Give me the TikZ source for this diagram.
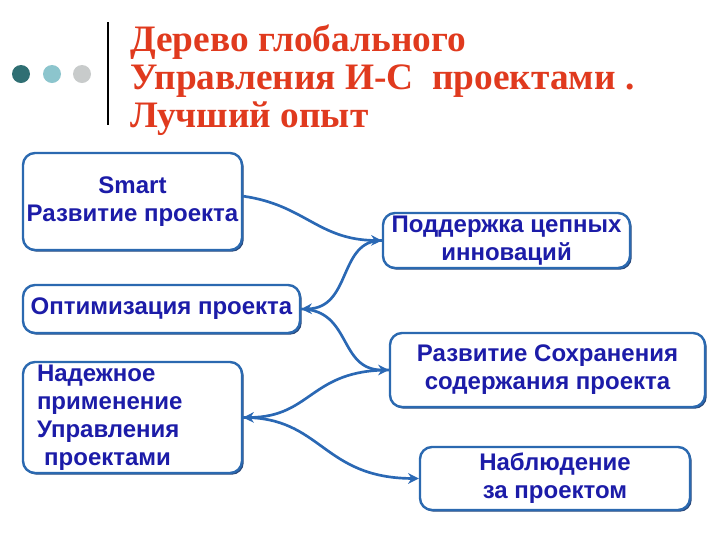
\documentclass[tikz,border=0pt]{standalone}
\usepackage{fontspec}
\setmainfont{Liberation Serif}
\newfontfamily\boxfont{Liberation Sans}
\usepackage{tikz}
\usetikzlibrary{arrows.meta,shadows}

\tikzset{
  stagebox/.style={draw={rgb, 255:red, 43; green, 105; blue, 176}, line width=1.8pt,
    rounded corners=9pt, fill=white, inner sep=0pt,
    drop shadow={shadow xshift=1.3pt, shadow yshift=-1.3pt, opacity=1,
      fill={rgb, 255:red, 40; green, 70; blue, 120}},
    text={rgb, 255:red, 28; green, 28; blue, 168},
    font=\boxfont\bfseries\fontsize{18}{21}\selectfont, align=center},
  link/.style={draw={rgb, 255:red, 42; green, 104; blue, 180}, line width=2pt,
    -{Stealth[length=8pt,width=8pt]}},
}

\begin{document}
\begin{tikzpicture}[x=0.75pt,y=0.75pt,yscale=-1,xscale=1]
%set diagram left start at 0, and has height of 540
\useasboundingbox (0,0) rectangle (720,540);

%Shape: Circle
\fill [color={rgb, 255:red, 47; green, 111; blue, 115 }] (21,74) circle (6.75pt);
%Shape: Circle
\fill [color={rgb, 255:red, 140; green, 197; blue, 205 }] (52,74) circle (6.75pt);
%Shape: Circle
\fill [color={rgb, 255:red, 200; green, 203; blue, 203 }] (82,74) circle (6.75pt);
%Straight Lines
\draw [line width=2.2pt] (108,22) -- (108,125);

% Text Node
\draw (130,25) node (title) [anchor=north west][inner sep=0pt][align=left]
  [text={rgb, 255:red, 224; green, 58; blue, 30 }][font=\bfseries\fontsize{28}{28.5}\selectfont]
  {Дерево глобального\\Управления И-С~~проектами~.\\Лучший опыт};

%Shape: Rounded Rect
\draw (132.5,201.5) node (smart) [stagebox, minimum width=164.25pt, minimum height=72.75pt]
  {Smart\\Развитие проекта};
%Shape: Rounded Rect
\draw (161.5,309) node (optim) [stagebox, minimum width=207.75pt, minimum height=36pt]
  {Оптимизация проекта};
%Shape: Rounded Rect
\draw (132.5,417.5) node (reliable) [stagebox, minimum height=83.25pt, inner xsep=10.5pt,
  text width=143.25pt, align=left]
  {Надежное\\применение\\Управления\\\hspace{0.3em}проектами};
%Shape: Rounded Rect
\draw (506.5,240.5) node (chain) [stagebox, minimum width=185.25pt, minimum height=41.25pt]
  {Поддержка цепных\\инноваций};
%Shape: Rounded Rect
\draw (547.5,370) node (keep) [stagebox, minimum width=236.25pt, minimum height=55.5pt]
  {Развитие Сохранения\\содержания проекта};
%Shape: Rounded Rect
\draw (555,478.5) node (watch) [stagebox, minimum width=202.5pt, minimum height=47.25pt]
  {Наблюдение\\за проектом};

%Curve Lines
\draw [link] ([yshift=-4pt]smart.east) .. controls (305,205) and (318,240) .. (chain.west);
%Curve Lines
\draw [link] (chain.west) .. controls (338,240) and (352,308) .. (optim.east);
%Curve Lines
\draw [link] (optim.east) .. controls (352,310) and (338,370) .. (keep.west);
%Curve Lines
\draw [link] (keep.west) .. controls (310,370) and (312,417) .. (reliable.east);
%Curve Lines
\draw [link] (reliable.east) .. controls (322,417) and (322,478) .. (watch.west);
\end{tikzpicture}
\end{document}
